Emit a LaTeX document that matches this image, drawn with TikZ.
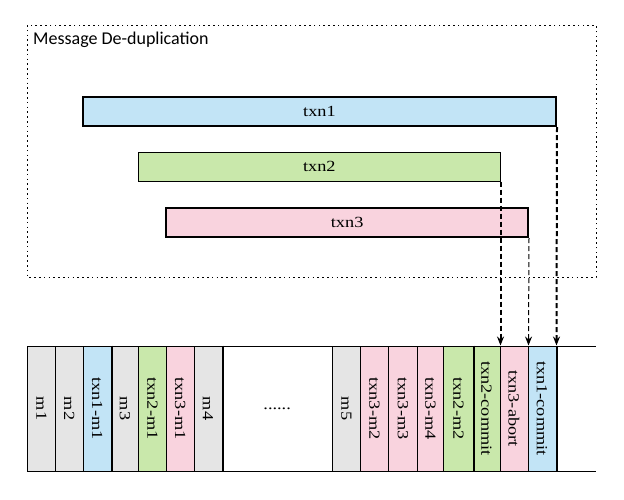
\documentclass[tikz,border=0pt]{standalone}
\usepackage{fontspec}
\setmainfont{Liberation Serif}
\newfontfamily\labfont[FakeStretch=1.18]{Liberation Serif}
\newfontfamily\titlefont{Carlito}
\usetikzlibrary{arrows.meta}
\definecolor{cgray}{RGB}{229,229,229}
\definecolor{cblue}{RGB}{194,228,246}
\definecolor{cgreen}{RGB}{201,232,171}
\definecolor{cpink}{RGB}{249,211,222}
\tikzset{
  txbox/.style={draw, inner sep=0pt, minimum height=29pt, font=\labfont\fontsize{15.5}{18}\selectfont},
  cellbox/.style={draw, line width=1pt, inner sep=0pt, minimum height=125pt, font=\labfont\fontsize{15.5}{18}\selectfont},
  arr/.style={dashed, dash pattern=on 5pt off 3pt, -{Stealth[length=9pt,width=7pt]}},
  frame/.style={draw, line width=0.9pt, dash pattern=on 1.6pt off 3.2pt}
}
\begin{document}
\begin{tikzpicture}[x=1pt,y=-1pt]
\useasboundingbox (0,0) rectangle (624,499);
% frame
\draw[frame] (27,25) rectangle (596,277);
\node[anchor=base west, inner sep=0pt, font=\titlefont\fontsize{18}{20}\selectfont] (title) at (33,44) {Message De-duplication};
% transaction boxes
\node[txbox, fill=cblue, line width=2pt, minimum width=473pt] (t1) at (319.5,111.5) {txn1};
\node[txbox, fill=cgreen, line width=1pt, minimum width=361.3pt] (t2) at (319.35,166.5) {txn2};
\node[txbox, fill=cpink, line width=2pt, minimum width=361.7pt] (t3) at (347.15,222.5) {txn3};
% long top and bottom lines
\draw[line width=1pt] (27.7,346) -- (596,346);
\draw[line width=1pt] (27.7,471) -- (596,471);
% cells
\foreach \l/\r/\t/\c [count=\i] in {
  27.7/55.3/m1/cgray,
  55.3/83.3/m2/cgray,
  83.3/111/txn1-m1/cblue,
  111/138.7/m3/cgray,
  138.7/166.3/txn2-m1/cgreen,
  166.3/194/txn3-m1/cpink,
  194/222/m4/cgray}
  \node[cellbox, fill=\c, minimum width={(\r-\l)*1pt}] (c\i) at ({(\l+\r)/2},408.5) {\rotatebox{-90}{\t}};
\node[cellbox, fill=white, minimum width=110.3pt] (c8) at (277.15,408.5) {......};
\foreach \l/\r/\t/\c [count=\i from 9] in {
  332.3/360.3/m5/cgray,
  360.3/388.5/txn3-m2/cpink,
  388.5/417.3/txn3-m3/cpink,
  417.3/443.7/txn3-m4/cpink,
  443.7/473/txn2-m2/cgreen,
  473/500/txn2-commit/cgreen,
  500/528/txn3-abort/cpink,
  528/556/txn1-commit/cblue}
  \node[cellbox, fill=\c, minimum width={(\r-\l)*1pt}] (c\i) at ({(\l+\r)/2},408.5) {\rotatebox{-90}{\t}};
% thicker separators
\draw[line width=2pt] (c3.north east) -- (c3.south east);
\draw[line width=2pt] (c7.north east) -- (c7.south east);
\draw[line width=2pt] (c13.north east) -- (c13.south east);
\draw[line width=2pt] (c16.north east) -- (c16.south east);
% arrows
\draw[arr, line width=2pt] (t2.south east) -- (c14.north east);
\draw[arr, line width=1pt] (t3.south east) -- (c15.north east);
\draw[arr, line width=2pt] (t1.south east) -- (c16.north east);
\end{tikzpicture}
\end{document}
